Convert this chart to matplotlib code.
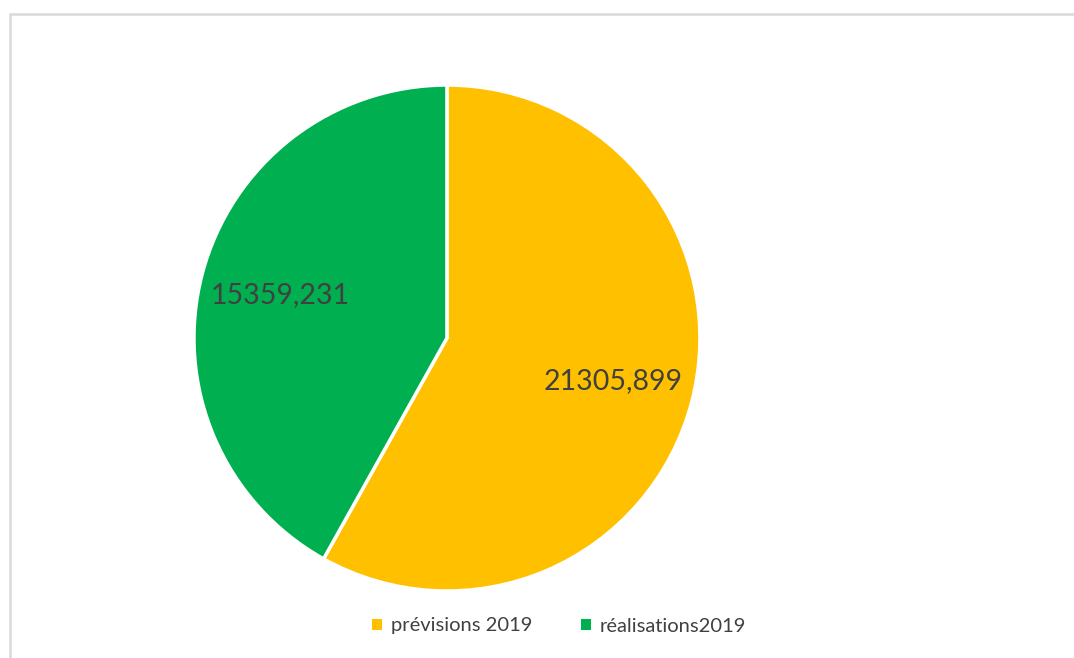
import matplotlib.pyplot as plt
from matplotlib.patches import Patch, Rectangle

plt.rcParams['font.family'] = ['Lato', 'DejaVu Sans']

categories = ["prévisions 2019", "réalisations2019"]
values = [21305.899, 15359.231]
colors = ["#FFC000", "#00B050"]
labels = [f"{v:.3f}".replace(".", ",") for v in values]

fig = plt.figure(figsize=(10.74, 6.58), dpi=100)
ax = fig.add_axes([0.1806, 0.1018, 0.4711, 0.769])

wedges, texts = ax.pie(values, colors=colors, labels=labels, startangle=90,
                       counterclock=False, labeldistance=0.68,
                       wedgeprops=dict(edgecolor="white", linewidth=2.5),
                       textprops=dict(fontsize=20.5, color="#404040"))
for t in texts:
    t.set_ha("center")
    t.set_va("center")
ax.set_xlim(-1, 1)
ax.set_ylim(-1, 1)
ax.set_aspect("equal")

# outer chart frame (only left and top visible)
fig.add_artist(Rectangle((10 / 1074, -0.1), 1.2, 1 - 14 / 658 + 0.1,
                         transform=fig.transFigure, fill=False,
                         edgecolor="#D9D9D9", linewidth=1.8))

handles = [Patch(facecolor=c, edgecolor="none") for c in colors]
fig.legend(handles, categories, loc="center", ncol=2, frameon=False,
           bbox_to_anchor=(559 / 1074, 1 - 626 / 658),
           handlelength=0.5, handleheight=0.5, handletextpad=0.45,
           columnspacing=2.4, prop=dict(size=14.5), labelcolor="#404040")

fig.savefig("out.png", dpi=100)
